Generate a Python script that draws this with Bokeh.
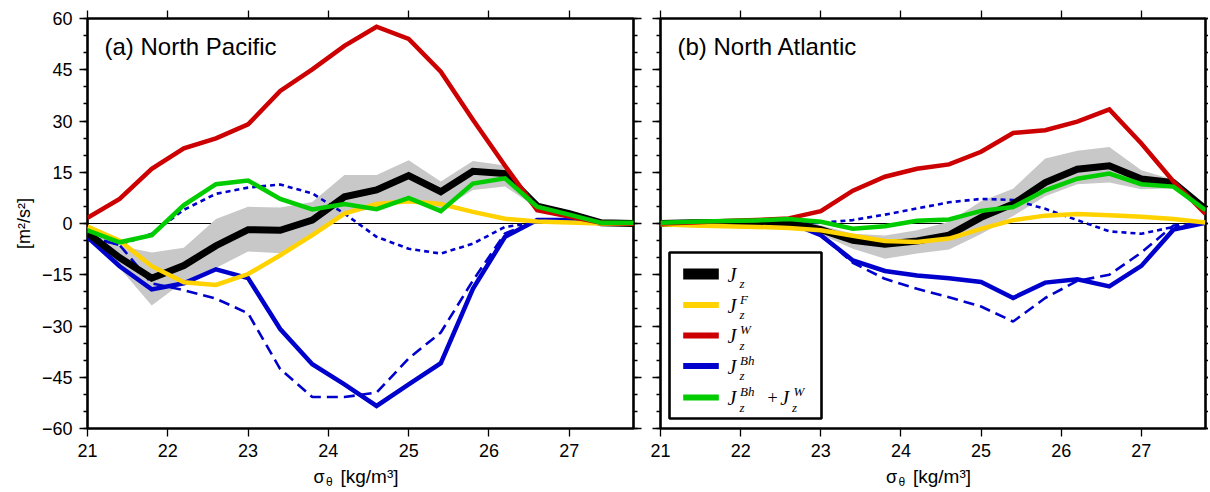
from bokeh.plotting import figure
from bokeh.models import (Range1d, LinearAxis, FixedTicker, CustomJSTickFormatter,
                          Span, Label, BoxAnnotation)
from bokeh.layouts import row, column
from bokeh.embed import file_html
from bokeh.resources import INLINE

# ---------------- data ----------------
sigma = [21.0, 21.4, 21.8, 22.2, 22.6, 23.0, 23.4, 23.8, 24.2, 24.6,
         25.0, 25.4, 25.8, 26.2, 26.6, 27.0, 27.4, 27.8]

# (a) North Pacific
np_jz    = [-2.8, -10.0, -16.0, -12.3, -6.5, -1.8, -2.0, 1.0, 7.8, 9.8, 14.0, 9.3, 15.3, 14.6, 5.1, 2.9, 0.2, 0.0]
np_jz_lo = [-3.5, -13.0, -24.0, -17.0, -13.0, -8.2, -8.7, -3.9, 2.6, 4.6, 8.2, 3.9, 9.8, 10.8, 4.6, 2.4, 0.0, 0.0]
np_jz_hi = [-1.5, -6.6, -8.5, -7.1, 1.3, 4.9, 4.7, 6.3, 14.2, 14.2, 18.5, 12.3, 18.3, 17.0, 5.6, 3.4, 0.4, 0.2]
np_jf    = [-0.9, -5.0, -12.5, -17.2, -18.0, -14.8, -9.3, -3.4, 2.9, 5.7, 6.5, 5.7, 3.4, 1.4, 0.6, 0.3, 0.0, 0.0]
np_jw    = [1.7, 7.2, 16.0, 22.0, 24.9, 29.0, 38.8, 45.1, 52.0, 57.6, 54.0, 44.4, 30.4, 16.9, 3.9, 2.0, 0.2, 0.0]
np_jbh   = [-4.0, -12.5, -19.3, -17.5, -13.4, -16.0, -30.9, -41.2, -47.1, -53.4, -47.1, -40.9, -19.1, -3.9, 1.0, 1.0, 0.3, 0.0]
np_jbhw  = [-2.0, -5.5, -3.4, 5.4, 11.5, 12.6, 7.2, 4.1, 5.7, 4.2, 7.5, 3.6, 11.7, 13.2, 4.9, 2.6, 0.2, 0.2]
np_dash  = [-3.8, -6.3, -17.5, -19.5, -22.0, -26.3, -42.6, -50.8, -50.8, -49.5, -39.5, -31.9, -16.7, -2.9, 0.8, 0.8, 0.2, 0.0]
np_dot   = [-3.8, -6.3, -3.0, 4.0, 8.7, 10.5, 11.4, 8.8, 2.9, -3.9, -7.4, -8.8, -5.9, -1.0, 0.3, 0.3, 0.0, 0.0]

# (b) North Atlantic
na_jz    = [0.0, 0.2, 0.3, 0.4, 0.3, -1.8, -4.9, -6.1, -5.1, -3.4, 1.8, 5.7, 12.0, 15.9, 16.9, 13.0, 12.0, 4.2]
na_jz_lo = [-0.5, -0.3, -0.2, -0.1, -0.3, -3.2, -7.4, -10.3, -8.8, -7.6, -3.1, 2.2, 8.0, 11.5, 12.0, 10.0, 10.3, 3.7]
na_jz_hi = [0.4, 0.6, 0.7, 0.8, 0.8, -0.5, -3.0, -3.5, -2.0, 0.5, 6.5, 10.2, 19.0, 21.3, 22.4, 15.6, 12.8, 5.0]
na_jf    = [-0.2, -0.6, -0.8, -1.0, -1.3, -2.0, -3.6, -5.1, -5.4, -4.4, -1.6, 1.0, 2.3, 2.8, 2.4, 2.0, 1.3, 0.3]
na_jw    = [0.0, 0.3, 0.7, 1.0, 1.5, 3.6, 9.6, 13.7, 16.0, 17.3, 21.0, 26.5, 27.3, 29.8, 33.4, 23.4, 12.3, 2.8]
na_jbh   = [0.0, 0.3, 0.5, 0.7, 0.4, -3.4, -10.8, -13.9, -15.2, -16.0, -17.1, -21.8, -17.3, -16.3, -18.4, -12.4, -1.8, 0.2]
na_jbhw  = [0.2, 0.5, 0.7, 0.9, 1.3, 0.5, -1.5, -0.8, 0.8, 1.2, 3.7, 4.8, 9.7, 13.1, 14.6, 11.5, 10.8, 3.9]
na_dash  = [0.0, 0.3, 0.5, 0.7, 0.4, -3.4, -11.5, -16.2, -19.1, -21.6, -24.3, -28.7, -21.8, -16.8, -15.0, -8.5, -0.6, 0.2]
na_dot   = [0.0, 0.0, 0.0, 0.0, 0.0, 0.2, 1.0, 2.6, 4.4, 6.2, 7.2, 6.9, 4.3, 1.0, -2.3, -3.0, -1.0, 0.1]

x_ticks = [21, 22, 23, 24, 25, 26, 27]
y_ticks = [-60, -45, -30, -15, 0, 15, 30, 45, 60]
y_minor = list(range(-60, 61, 5))

titles = ["(a) North Pacific", "(b) North Atlantic"]

# ---------------- style ----------------
BLACK = "#000000"
YELLOW = "#FFD200"
RED = "#CC0000"
BLUE = "#0000CC"
GREEN = "#00CC00"
GRAY = "#C8C8C8"
SANS = "Liberation Sans"
SERIF = "Liberation Serif"

empty_fmt = "return ''"
minus_fmt = "return tick < 0 ? '\\u2212' + Math.abs(tick) : String(tick)"

FIG_H = 465


def make_axis(ticker, labels, tick_out=8, minor_out=4, standoff=8):
    ax = LinearAxis(ticker=ticker, axis_line_color=None,
                    major_tick_out=tick_out, major_tick_in=0,
                    minor_tick_out=minor_out, minor_tick_in=0,
                    major_tick_line_color="black", minor_tick_line_color="black",
                    major_tick_line_width=1.3, minor_tick_line_width=1.3)
    if labels:
        ax.formatter = CustomJSTickFormatter(code=minus_fmt)
        ax.major_label_text_font = SANS
        ax.major_label_text_font_size = "18px"
        ax.major_label_text_color = "black"
        ax.major_label_standoff = standoff
    else:
        ax.formatter = CustomJSTickFormatter(code=empty_fmt)
        ax.major_label_text_font_size = "0px"
        ax.major_label_standoff = 0
        ax.axis_label_standoff = 0
    return ax


def make_panel(width, bl, br, right_out, left_labels, title, d):
    jz, lo, hi, jf, jw, jbh, jbhw, dash, dot = d
    p = figure(width=width, height=FIG_H, x_range=Range1d(21, 27.8), y_range=Range1d(-60, 60),
               output_backend="svg", toolbar_location=None,
               x_axis_location=None, y_axis_location=None,
               min_border_left=bl, min_border_right=br,
               min_border_top=18, min_border_bottom=FIG_H - 428)
    p.grid.visible = False
    p.outline_line_color = "black"
    p.outline_line_width = 2.6
    p.background_fill_color = "white"
    p.border_fill_color = "white"

    xt = FixedTicker(ticks=x_ticks, minor_ticks=[])
    yt = FixedTicker(ticks=y_ticks, minor_ticks=y_minor)
    p.add_layout(make_axis(xt, True, standoff=7), "below")
    p.add_layout(make_axis(xt, False), "above")
    left = make_axis(yt, left_labels, standoff=7)
    if left_labels:
        left.axis_label = "[m\u00b2/s\u00b2]"
        left.axis_label_text_font = SANS
        left.axis_label_text_font_size = "18px"
        left.axis_label_text_font_style = "normal"
        left.axis_label_text_color = "black"
        left.axis_label_standoff = 5
    p.add_layout(left, "left")
    p.add_layout(make_axis(yt, False, tick_out=right_out, minor_out=min(4, right_out)), "right")

    p.add_layout(Span(location=0, dimension="width", line_color="black",
                      line_width=1, level="underlay"))

    p.varea(x=sigma, y1=lo, y2=hi, fill_color=GRAY)
    p.line(sigma, dot, line_color=BLUE, line_width=2.6, line_dash="5 4")
    p.line(sigma, dash, line_color=BLUE, line_width=2.6, line_dash="11 6")
    p.line(sigma, jbh, line_color=BLUE, line_width=4.5, line_join="miter")
    p.line(sigma, jz, line_color=BLACK, line_width=7, line_join="miter")
    p.line(sigma, jf, line_color=YELLOW, line_width=4.5, line_join="miter")
    p.line(sigma, jw, line_color=RED, line_width=4.5, line_join="miter")
    p.line(sigma, jbhw, line_color=GREEN, line_width=4.5, line_join="miter")

    p.add_layout(Label(x=17, y=382, x_units="screen", y_units="screen", text=title,
                       text_font=SANS, text_font_size="24px", text_color="black",
                       text_baseline="alphabetic", text_align="left"))
    return p


def make_xlabel(width, center):
    q = figure(width=width, height=492 - FIG_H, x_range=Range1d(0, 1), y_range=Range1d(0, 1),
               output_backend="svg", toolbar_location=None,
               x_axis_location=None, y_axis_location=None, min_border=0)
    q.grid.visible = False
    q.outline_line_color = None
    q.background_fill_color = "white"
    q.border_fill_color = "white"
    parts = [(center - 47, 16, "\u03c3", "18px"),
             (center - 34.5, 10.5, "\u03b8", "12px"),
             (center - 20, 16, "[kg/m\u00b3]", "19px")]
    for x, y, t, s in parts:
        q.add_layout(Label(x=x, y=y, x_units="screen", y_units="screen", text=t,
                           text_font=SANS, text_font_size=s, text_color="black",
                           text_baseline="alphabetic", text_align="left"))
    return q


pa = make_panel(645, 87, 12, 8, True, titles[0],
                (np_jz, np_jz_lo, np_jz_hi, np_jf, np_jw, np_jbh, np_jbhw, np_dash, np_dot))
pb = make_panel(563, 15, 3, 3, False, titles[1],
                (na_jz, na_jz_lo, na_jz_hi, na_jf, na_jw, na_jbh, na_jbhw, na_dash, na_dot))

# ---------------- legend (panel b) ----------------
pb.add_layout(BoxAnnotation(left=9, right=161, bottom=10, top=176,
                            left_units="screen", right_units="screen",
                            bottom_units="screen", top_units="screen",
                            fill_color="white", fill_alpha=1.0,
                            line_color="black", line_width=2.6, line_alpha=1.0))

legend_colors = [BLACK, YELLOW, RED, BLUE, GREEN]
legend_thick = [11, 6, 6, 6, 6]
legend_sups = ["", "F", "W", "Bh", "Bh"]
centers = [154.5, 123.5, 93.0, 62.5, 31.0]


def lab(x, y, text, size, style="italic", font=SERIF):
    pb.add_layout(Label(x=x, y=y, x_units="screen", y_units="screen", text=text,
                        text_font=font, text_font_size=size, text_font_style=style,
                        text_color="black", text_baseline="alphabetic", text_align="left"))


for c, col, th, sup in zip(centers, legend_colors, legend_thick, legend_sups):
    pb.add_layout(BoxAnnotation(left=22.7, right=58.3, bottom=c - th / 2, top=c + th / 2,
                                left_units="screen", right_units="screen",
                                bottom_units="screen", top_units="screen",
                                fill_color=col, fill_alpha=1.0, line_color=None))
    lab(67, c - 0.5, "J", "20px")
    lab(79, c - 9.7, "z", "13px")
    if sup:
        lab(79.5, c + 6, sup, "13px")

c5 = centers[4]
lab(107, c5, "+", "18px", style="normal")
lab(119.7, c5 - 0.5, "J", "20px")
lab(131.5, c5 - 9.7, "z", "13px")
lab(133, c5 + 6, "W", "13px")

la = make_xlabel(645, 87 + 273)
lb = make_xlabel(563, 15 + 272.5)

layout = column(row(pa, pb), row(la, lb))
open("out.html", "w").write(file_html(layout, INLINE))
